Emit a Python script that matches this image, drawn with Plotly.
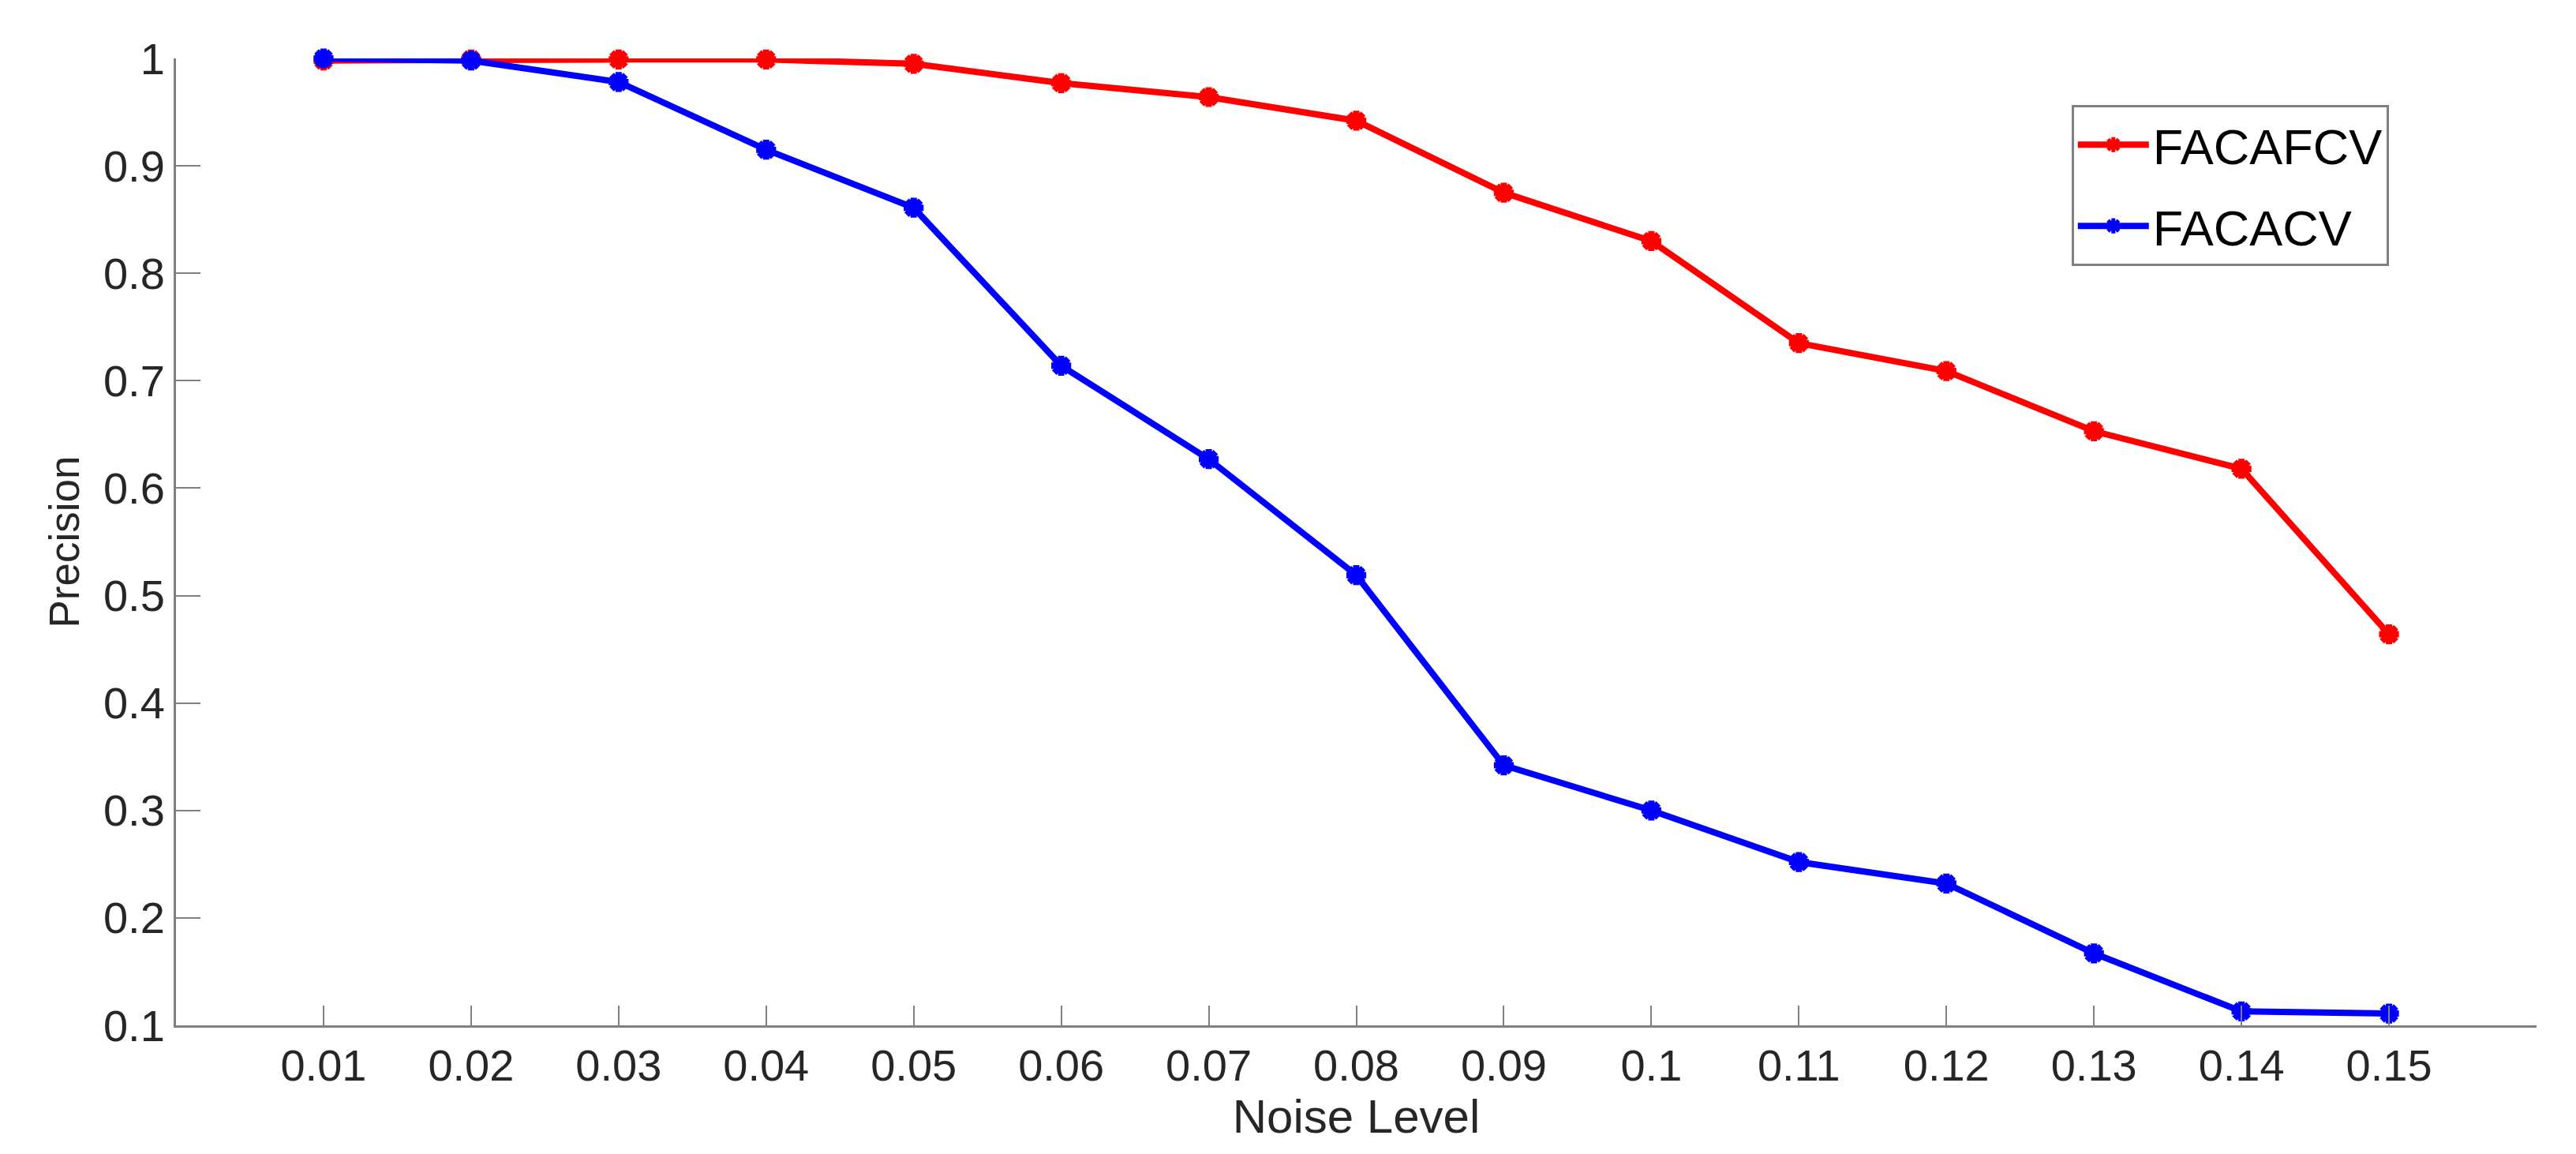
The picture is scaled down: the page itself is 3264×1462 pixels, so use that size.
import plotly.graph_objects as go

# noise levels on the x axis
noise_level = [0.01, 0.02, 0.03, 0.04, 0.05, 0.06, 0.07, 0.08,
               0.09, 0.10, 0.11, 0.12, 0.13, 0.14, 0.15]

# precision per method
facafcv = [0.998, 0.999, 0.999, 0.999, 0.995, 0.977, 0.964, 0.942,
           0.875, 0.830, 0.735, 0.709, 0.653, 0.618, 0.464]
facacv = [1.000, 0.998, 0.978, 0.915, 0.861, 0.714, 0.627, 0.519,
          0.342, 0.300, 0.252, 0.232, 0.167, 0.113, 0.111]

x_ticks = [0.01, 0.02, 0.03, 0.04, 0.05, 0.06, 0.07, 0.08,
           0.09, 0.1, 0.11, 0.12, 0.13, 0.14, 0.15]
x_tick_text = ['0.01', '0.02', '0.03', '0.04', '0.05', '0.06', '0.07', '0.08',
               '0.09', '0.1', '0.11', '0.12', '0.13', '0.14', '0.15']
y_ticks = [0.1, 0.2, 0.3, 0.4, 0.5, 0.6, 0.7, 0.8, 0.9, 1]
y_tick_text = ['0.1', '0.2', '0.3', '0.4', '0.5', '0.6', '0.7', '0.8', '0.9', '1']

FONT = 'Liberation Sans, Arial, sans-serif'
TEXT = '#262626'
AXIS = '#808080'


def series(name, values, color):
    return go.Scatter(
        x=noise_level,
        y=values,
        name=name,
        legendgroup=name,
        mode='lines+markers',
        line=dict(color=color, width=8),
        marker=dict(symbol='asterisk-open', size=21,
                    color=color, line=dict(color=color, width=8)),
        cliponaxis=False,
    )


fig = go.Figure()
fig.add_trace(series('FACAFCV', facafcv, '#ff0000'))
fig.add_trace(series('FACACV', facacv, '#0000ff'))

fig.update_layout(
    width=3264,
    height=1462,
    paper_bgcolor='white',
    plot_bgcolor='white',
    font=dict(family=FONT, color=TEXT, size=56),
    margin=dict(l=215, r=58, t=66, b=171),
    showlegend=True,
    legend=dict(
        x=0.803, y=0.952, xanchor='left', yanchor='top',
        bgcolor='white',
        bordercolor=AXIS, borderwidth=3,
        font=dict(family=FONT, size=63, color='black'),
        traceorder='grouped',
        tracegroupgap=18,
        itemwidth=90,
    ),
)

fig.update_xaxes(
    range=[0, 0.16],
    tickvals=x_ticks,
    ticktext=x_tick_text,
    ticks='inside',
    ticklen=25,
    tickwidth=2,
    tickcolor=AXIS,
    showline=True,
    linecolor=AXIS,
    linewidth=3,
    showgrid=False,
    zeroline=False,
    tickfont=dict(size=56, color=TEXT),
    title=dict(text='Noise Level', font=dict(size=60, color=TEXT), standoff=4),
)

fig.update_yaxes(
    range=[0.1, 1.0],
    tickvals=y_ticks,
    ticktext=y_tick_text,
    ticks='inside',
    ticklen=31,
    tickwidth=2,
    tickcolor=AXIS,
    showline=True,
    linecolor=AXIS,
    linewidth=3,
    showgrid=False,
    zeroline=False,
    tickfont=dict(size=56, color=TEXT),
    title=dict(text='Precision', font=dict(size=53, color=TEXT), standoff=14),
)

fig.write_html('out.html')
